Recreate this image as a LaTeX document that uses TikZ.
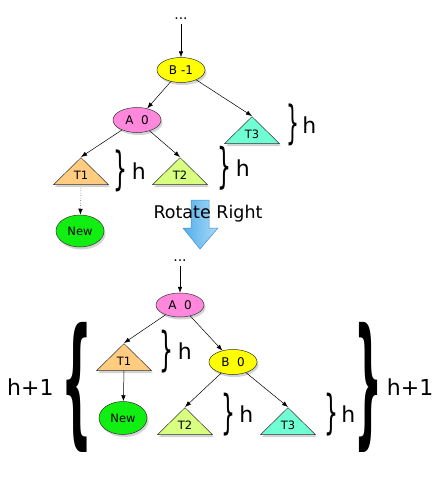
\documentclass[tikz,border=0pt]{standalone}
\usepackage{fontspec}
\setmainfont{DejaVu Sans}
\usepackage{graphicx}
\usetikzlibrary{arrows.meta, positioning, shapes.geometric, shadows}

\definecolor{bnodefill}{HTML}{FFFF00}
\definecolor{anodefill}{HTML}{FF88DD}
\definecolor{newfill}{HTML}{11EE11}
\definecolor{tonefill}{HTML}{FFCC80}
\definecolor{ttwofill}{HTML}{D8FF80}
\definecolor{tthreefill}{HTML}{70FFD4}
\definecolor{rotleft}{HTML}{55AEEA}
\definecolor{rotright}{HTML}{A8DAF8}
\definecolor{rotdraw}{HTML}{3B8FD0}

% stretched glyph brace: width, total height, glyph
\newcommand{\stretchbrace}[3]{\resizebox*{#1}{#2}{#3}}

\begin{document}
\begin{tikzpicture}[x=1pt, y=-1pt,
        avl_node/.style={draw=black!80, line width=0.5pt, ellipse, inner sep=0pt,
            minimum width=48pt, minimum height=25pt,
            font=\fontsize{12}{12}\selectfont,
            drop shadow={opacity=0.35, shadow xshift=1.5pt, shadow yshift=-2.5pt}},
        leaf_node/.style={avl_node, minimum height=32pt, fill=newfill,
            font=\fontsize{11.5}{12}\selectfont},
        subtree/.style={draw=black!80, line width=0.5pt, isosceles triangle,
            isosceles triangle stretches, shape border rotate=90,
            minimum width=55pt, minimum height=27pt, inner sep=0pt, anchor=apex,
            font=\fontsize{11.5}{12}\selectfont,
            drop shadow={opacity=0.35, shadow xshift=1.5pt, shadow yshift=-2.5pt}},
        edge/.style={-{Latex[length=6pt, width=4.5pt]}, line width=0.5pt},
        dots_label/.style={font=\fontsize{14}{14}\selectfont, inner sep=0pt, outer sep=4pt},
        height_label/.style={font=\fontsize{22}{24}\selectfont, inner sep=0pt}]

        \useasboundingbox (0,0) rectangle (441,477);

        % Before the rotation
        \node[dots_label] (dots_top) at (181,19) {...};
        \node[avl_node, fill=bnodefill] (b_top) at (181,70) {B -1};
        \node[avl_node, fill=anodefill] (a_top) at (137,120) {A~~0};
        \node[subtree, fill=tthreefill] (t3_top) at (252,116) {T3};
        \node[subtree, fill=tonefill] (t1_top) at (81,157) {T1};
        \node[subtree, fill=ttwofill] (t2_top) at (180,157) {T2};
        \node[leaf_node] (new_top) at (80,231) {New};

        \draw[edge] (dots_top) -- (b_top);
        \draw[edge] (b_top) -- (a_top);
        \draw[edge] (b_top) -- (t3_top.apex);
        \draw[edge] (a_top) -- (t1_top.apex);
        \draw[edge] (a_top) -- (t2_top.apex);
        \draw[edge, dotted] ([yshift=-3pt]t1_top.lower side) -- (new_top);

        % Heights of the subtrees
        \node[inner sep=0pt] (brace_t3_top) at (292.5,125) {\stretchbrace{13pt}{42pt}{\}}};
        \node[height_label, right=3pt of brace_t3_top] (h_t3_top) {h};
        \node[inner sep=0pt] (brace_t1_top) at (120.5,171) {\stretchbrace{14pt}{42pt}{\}}};
        \node[height_label, right=4pt of brace_t1_top] (h_t1_top) {h};
        \node[inner sep=0pt] (brace_t2_top) at (224.5,168) {\stretchbrace{14pt}{44pt}{\}}};
        \node[height_label, right=4pt of brace_t2_top] (h_t2_top) {h};

        % Rotation arrow
        \draw[draw=rotdraw, left color=rotleft, right color=rotright, line width=0.5pt]
            (191,200) -- (209,200) -- (209,228) -- (218,228) -- (200,249)
            -- (183,228) -- (191,228) -- cycle;
        \node[font=\fontsize{17.5}{20}\selectfont] (rotate_label) at (208,214) {Rotate Right};

        % After the rotation
        \node[dots_label] (dots_bottom) at (180,261) {...};
        \node[avl_node, fill=anodefill, minimum height=24pt] (a_bottom) at (180,305) {A~~0};
        \node[subtree, fill=tonefill] (t1_bottom) at (124,343) {T1};
        \node[avl_node, fill=bnodefill] (b_bottom) at (233,362) {B~~0};
        \node[leaf_node, minimum height=33pt] (new_bottom) at (123,418) {New};
        \node[subtree, fill=ttwofill] (t2_bottom) at (185,407) {T2};
        \node[subtree, fill=tthreefill] (t3_bottom) at (288,407) {T3};

        \draw[edge] (dots_bottom) -- (a_bottom);
        \draw[edge] (a_bottom) -- (t1_bottom.apex);
        \draw[edge] (a_bottom) -- (b_bottom);
        \draw[edge] (t1_bottom.lower side) -- (new_bottom);
        \draw[edge] (b_bottom) -- (t2_bottom.apex);
        \draw[edge] (b_bottom) -- (t3_bottom.apex);

        \node[inner sep=0pt] (brace_t1_bottom) at (166.5,351.5) {\stretchbrace{14pt}{43pt}{\}}};
        \node[height_label, right=4pt of brace_t1_bottom] (h_t1_bottom) {h};
        \node[inner sep=0pt] (brace_t2_bottom) at (228,414.5) {\stretchbrace{14pt}{43pt}{\}}};
        \node[height_label, right=4pt of brace_t2_bottom] (h_t2_bottom) {h};
        \node[inner sep=0pt] (brace_t3_bottom) at (331,414.5) {\stretchbrace{14pt}{43pt}{\}}};
        \node[height_label, right=3pt of brace_t3_bottom] (h_t3_bottom) {h};

        \node[inner sep=0pt] (brace_left) at (76.5,387) {\stretchbrace{31pt}{130pt}{\bfseries\{}};
        \node[height_label, left=7pt of brace_left] (h_left) {h+1};
        \node[inner sep=0pt] (brace_right) at (368.5,387) {\stretchbrace{28pt}{130pt}{\bfseries\}}};
        \node[height_label, right=4pt of brace_right] (h_right) {h+1};
\end{tikzpicture}
\end{document}
